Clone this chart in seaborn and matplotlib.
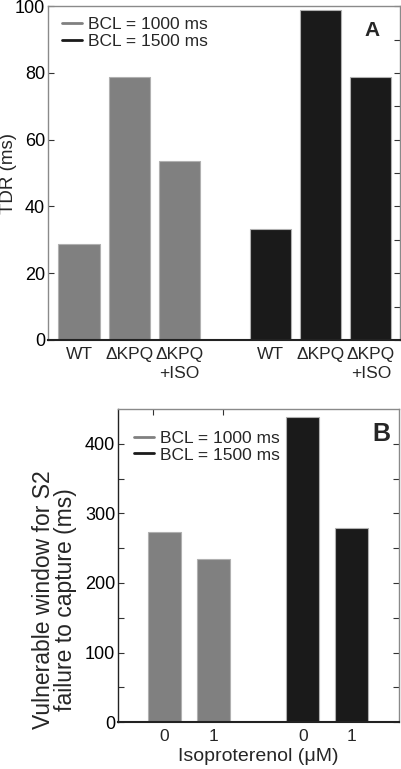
import numpy as np
import pandas as pd
import matplotlib
matplotlib.use("Agg")
import matplotlib.pyplot as plt
from matplotlib.lines import Line2D
import seaborn as sns

# --- data ---
bcl_labels = ["BCL = 1000 ms", "BCL = 1500 ms"]
tdr_groups = ["WT", "\u0394KPQ", "\u0394KPQ\n+ISO"]
tdr_1000 = [28.6, 78.8, 53.5]
tdr_1500 = [33.3, 98.7, 78.9]

iso_groups = ["0", "1"]
vw_1000 = [274, 234]
vw_1500 = [439, 279]

GRAY = "#808080"
BLACK = "#1a1a1a"

sns.set_style("white")
plt.rcParams["font.family"] = ["Liberation Sans", "DejaVu Sans"]
plt.rcParams["font.size"] = 13


def group_positions(n, gap):
    first = np.arange(1, n + 1, dtype=float)
    second = first + n - 1 + gap
    return np.concatenate([first, second])


def draw_panel(ax, groups, v1, v2, gap, width, ylim, major, minor, xlim,
               left_minor, left_color, legend_y):
    pos = group_positions(len(groups), gap)
    df = pd.DataFrame({
        "pos": pos,
        "value": list(v1) + list(v2),
        "BCL": [bcl_labels[0]] * len(v1) + [bcl_labels[1]] * len(v2),
    })
    sns.barplot(data=df, x="pos", y="value", hue="BCL", native_scale=True,
                dodge=False, palette=[GRAY, BLACK], width=width,
                edgecolor="#b0b0b0", linewidth=0.8, legend=False, ax=ax)
    ax.set_xlim(*xlim)
    ax.set_ylim(*ylim)
    ax.set_xticks(pos)
    ax.set_xticklabels(list(groups) * 2, linespacing=1.35)
    ax.set_yticks(major)
    ax.set_yticks(minor, minor=True)
    ax.tick_params(axis="y", which="both", direction="in", left=True,
                   right=True, length=4, width=0.8, colors="#333333",
                   labelcolor="black", pad=2, labelsize=13)
    ax.tick_params(axis="y", which="minor", left=left_minor)
    ax.tick_params(axis="x", length=0, pad=5, labelsize=12.5)
    ax.set_xlabel("")
    for side in ["top", "right", "left"]:
        ax.spines[side].set_color("#8a8a8a")
        ax.spines[side].set_linewidth(1.0)
    ax.spines["left"].set_color(left_color)
    ax.spines["bottom"].set_color("#222222")
    ax.spines["bottom"].set_linewidth(1.5)
    handles = [Line2D([0], [0], color=GRAY, lw=2),
               Line2D([0], [0], color=BLACK, lw=2)]
    ax.legend(handles, bcl_labels, loc="upper left", frameon=False,
              fontsize=12.5, handlelength=1.15, handletextpad=0.35,
              labelspacing=0.1, borderaxespad=0.2,
              bbox_to_anchor=(legend_y[0], legend_y[1]))


fig = plt.figure(figsize=(4.02, 7.69), dpi=100)
axA = fig.add_axes([0.119, 0.558, 0.876, 0.434])
axB = fig.add_axes([0.2935, 0.061, 0.699, 0.407])

draw_panel(axA, tdr_groups, tdr_1000, tdr_1500, gap=1.8, width=0.82,
           ylim=(0, 100), major=np.arange(0, 101, 20),
           minor=np.arange(10, 100, 10), xlim=(0.38, 7.38),
           left_minor=False, left_color="#8a8a8a", legend_y=(0.01, 1.0))
axA.set_ylabel("TDR (ms)", fontsize=13.5)
axA.yaxis.set_label_coords(-0.087, 0.5)
axA.text(0.943, 0.955, "A", transform=axA.transAxes, ha="right", va="top",
         fontsize=15, fontweight="bold")

draw_panel(axB, iso_groups, vw_1000, vw_1500, gap=1.85, width=0.68,
           ylim=(0, 450), major=np.arange(0, 401, 100),
           minor=np.arange(50, 450, 50), xlim=(0.04, 5.83),
           left_minor=True, left_color="#222222", legend_y=(0.02, 0.965))
axB.set_ylabel("Vulnerable window for S2\nfailure to capture (ms)",
               fontsize=16.5, linespacing=0.95)
axB.yaxis.set_label_coords(-0.146, 0.39)
axB.set_xlabel("Isoproterenol (\u03bcM)", fontsize=14, labelpad=3)
axB.text(0.97, 0.96, "B", transform=axB.transAxes, ha="right", va="top",
         fontsize=18, fontweight="bold")
# two stray tick marks on the top edge of panel B
top = axB.secondary_xaxis("top")
top.set_xticks([0.76, 2.2])
top.set_xticklabels([])
top.tick_params(direction="in", length=4, width=0.8, colors="#333333")
top.spines["top"].set_visible(False)

fig.savefig("out.png", dpi=100)
